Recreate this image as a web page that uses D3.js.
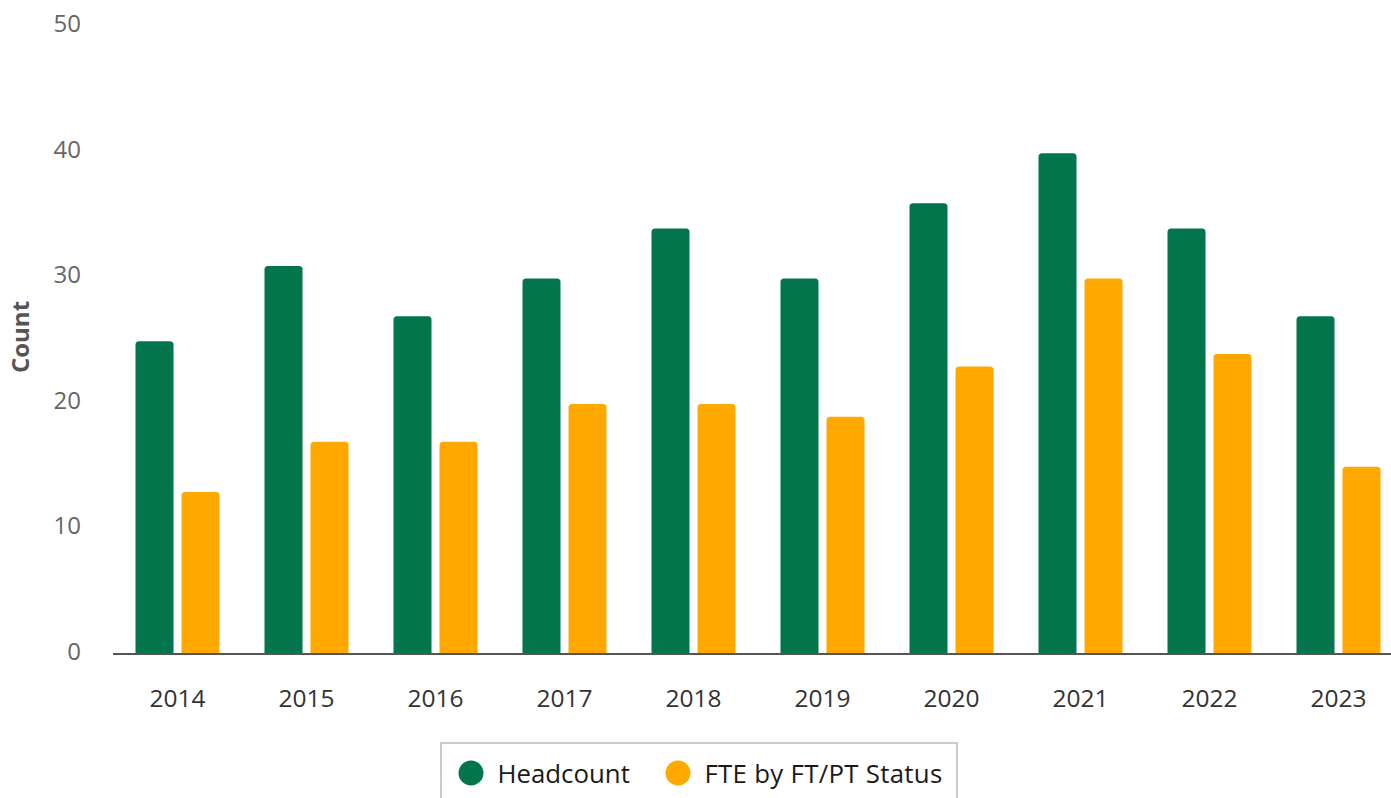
<!DOCTYPE html>
<html>
<head>
<meta charset="utf-8">
<script src="https://cdn.jsdelivr.net/npm/d3@7"></script>
<style>
  html, body { margin: 0; padding: 0; background: #fff; }
  svg { display: block; font-family: "Open Sans", "Noto Sans", sans-serif; }
</style>
</head>
<body>
<svg id="chart" width="1391" height="798"></svg>
<script>
const years = ["2014","2015","2016","2017","2018","2019","2020","2021","2022","2023"];
const seriesNames = ["Headcount", "FTE by FT/PT Status"];
const headcount = [25, 31, 27, 30, 34, 30, 36, 40, 34, 27];
const fte = [13, 17, 17, 20, 20, 19, 23, 30, 24, 15];
const yTicks = [0, 10, 20, 30, 40, 50];
const colors = ["#03754d", "#ffa800"];

const svg = d3.select("#chart");
const W = 1391, H = 798;

const y = d3.scaleLinear().domain([0, 50]).range([654, 26.7]);
const x = d3.scaleBand().domain(years).range([113, 1403]).padding(0);
const groupW = 84;
const x1 = d3.scaleBand().domain(seriesNames)
  .range([(x.bandwidth() - groupW) / 2, (x.bandwidth() + groupW) / 2])
  .paddingInner(8 / 46).paddingOuter(0);

const data = [headcount, fte];

// y tick labels
svg.append("g").selectAll("text").data(yTicks).join("text")
  .attr("x", 81)
  .attr("y", d => y(d) - 4)
  .attr("text-anchor", "end")
  .attr("dominant-baseline", "central")
  .attr("fill", "#666666")
  .attr("font-size", 24)
  .text(d => d);

// y title
svg.append("text")
  .attr("transform", "translate(29,337) rotate(-90)")
  .attr("text-anchor", "middle")
  .attr("font-size", 24)
  .attr("font-weight", "bold")
  .attr("fill", "#555555")
  .text("Count");

function topRounded(x0, y0, w, h, r) {
  r = Math.min(r, h, w / 2);
  return `M${x0},${y0 + h}V${y0 + r}Q${x0},${y0} ${x0 + r},${y0}H${x0 + w - r}Q${x0 + w},${y0} ${x0 + w},${y0 + r}V${y0 + h}Z`;
}

// bars
seriesNames.forEach((s, si) => {
  svg.append("g").selectAll("path").data(years).join("path")
    .attr("d", (yr, i) => {
      const v = data[si][i];
      const bx = x(yr) + x1(s);
      return topRounded(bx, y(v) + 1, x1.bandwidth(), y(0) - y(v) - 1, 3.5);
    })
    .attr("fill", colors[si]);
});

// x axis
const xAxis = d3.axisBottom(x).tickSize(0).tickPadding(0);
const gx = svg.append("g").attr("transform", `translate(0,${y(0)})`).call(xAxis);
gx.select(".domain").remove();
gx.selectAll("text")
  .attr("y", 0)
  .attr("dy", 0)
  .attr("transform", "translate(0,53)")
  .attr("font-size", 24.5)
  .attr("font-family", "\"Open Sans\", sans-serif")
  .attr("fill", "#333333");
svg.append("line")
  .attr("x1", 113).attr("x2", W)
  .attr("y1", y(0)).attr("y2", y(0))
  .attr("stroke", "#555555").attr("stroke-width", 2);

// legend
const lg = svg.append("g");
lg.append("rect")
  .attr("x", 441).attr("y", 743)
  .attr("width", 516).attr("height", 80)
  .attr("fill", "#ffffff")
  .attr("stroke", "#cccccc").attr("stroke-width", 2);
const legendPos = [471, 678];
seriesNames.forEach((s, i) => {
  lg.append("circle")
    .attr("cx", legendPos[i]).attr("cy", 773).attr("r", 12.5)
    .attr("fill", colors[i]);
  lg.append("text")
    .attr("x", legendPos[i] + 26.5).attr("y", 783)
    .attr("font-size", 25.8)
    .attr("letter-spacing", i === 1 ? 0.3 : 0)
    .attr("fill", "#1a1a1a")
    .text(s);
});
</script>
</body>
</html>
